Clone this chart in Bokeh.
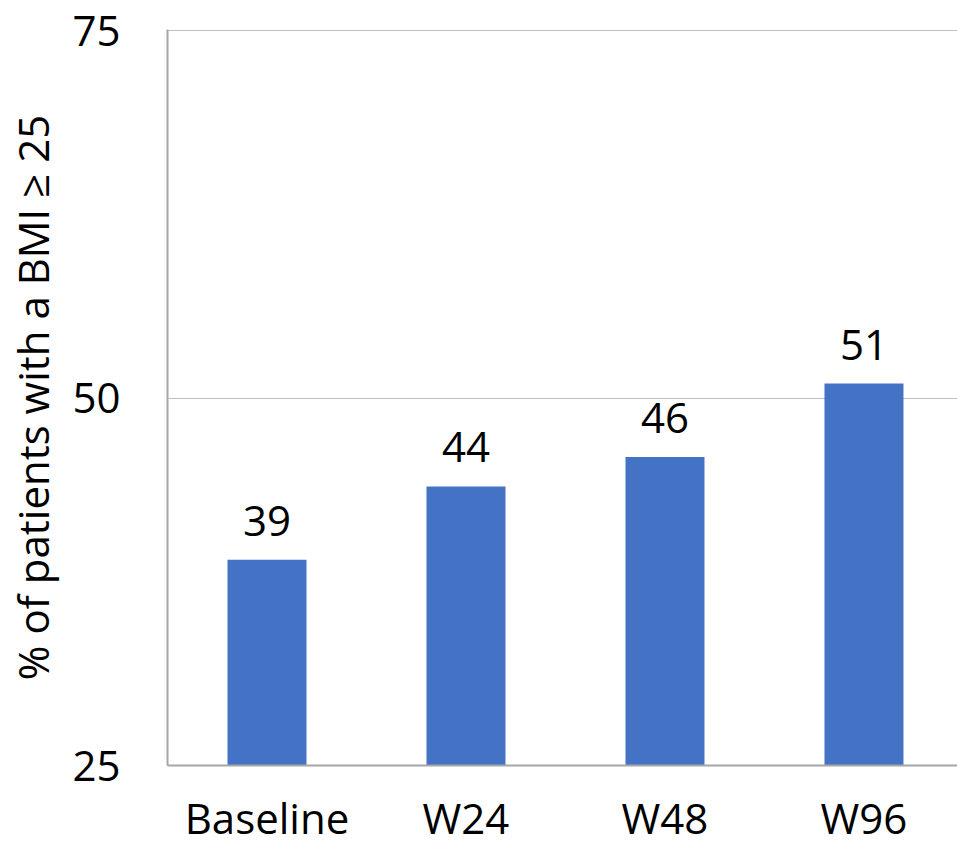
from bokeh.plotting import figure
from bokeh.models import Range1d, FixedTicker
from bokeh.core.properties import value
from bokeh.embed import file_html
from bokeh.resources import INLINE

# Share of patients with BMI >= 25 at each visit
visits = ["Baseline", "W24", "W48", "W96"]
pct_bmi_over_25 = [39, 44, 46, 51]
y_ticks = [25, 50, 75]

FONT = "Open Sans"
BAR_COLOR = "#4472C4"
AXIS_COLOR = "#a6a6a6"

x_pos = [i + 0.5 for i in range(len(visits))]

p = figure(
    width=957, height=848,
    output_backend="svg", toolbar_location=None,
    x_range=Range1d(0, 3.97), y_range=Range1d(25, 75.1),
    min_border_left=167, min_border_right=0,
    min_border_top=29, min_border_bottom=83,
)
p.outline_line_color = None
p.background_fill_color = "white"
p.border_fill_color = "white"

p.vbar(x=x_pos, top=pct_bmi_over_25, bottom=25, width=0.397,
       fill_color=BAR_COLOR, line_color=None)

p.text(x=x_pos, y=pct_bmi_over_25, text=[str(v) for v in pct_bmi_over_25],
       text_font=value(FONT), text_font_size="42px", text_color="black",
       text_align="center", text_baseline="alphabetic", y_offset=-39)

# x axis: category names under each bar
p.xaxis.ticker = FixedTicker(ticks=x_pos)
p.xaxis.major_label_overrides = {x: name for x, name in zip(x_pos, visits)}
p.xaxis.major_label_text_font = FONT
p.xaxis.major_label_text_font_size = "42px"
p.xaxis.major_label_text_color = "black"
p.xaxis.major_label_standoff = 17
p.xaxis.major_tick_line_color = None
p.xaxis.minor_tick_line_color = None
p.xaxis.axis_line_color = AXIS_COLOR
p.xaxis.axis_line_width = 2

# y axis
p.yaxis.ticker = FixedTicker(ticks=y_ticks)
p.yaxis.major_label_text_font = FONT
p.yaxis.major_label_text_font_size = "42px"
p.yaxis.major_label_text_color = "black"
p.yaxis.major_label_standoff = 41
p.yaxis.major_tick_line_color = None
p.yaxis.minor_tick_line_color = None
p.yaxis.axis_line_color = AXIS_COLOR
p.yaxis.axis_line_width = 2
p.yaxis.axis_label = "% of patients with a BMI ≥ 25"
p.yaxis.axis_label_text_font = FONT
p.yaxis.axis_label_text_font_size = "42px"
p.yaxis.axis_label_text_font_style = "normal"
p.yaxis.axis_label_text_color = "black"
p.yaxis.axis_label_standoff = 8

p.xgrid.grid_line_color = None
p.ygrid.grid_line_color = "#808080"
p.ygrid.grid_line_dash = "1 1"
p.ygrid.grid_line_width = 1

open("out.html", "w").write(file_html(p, INLINE))
